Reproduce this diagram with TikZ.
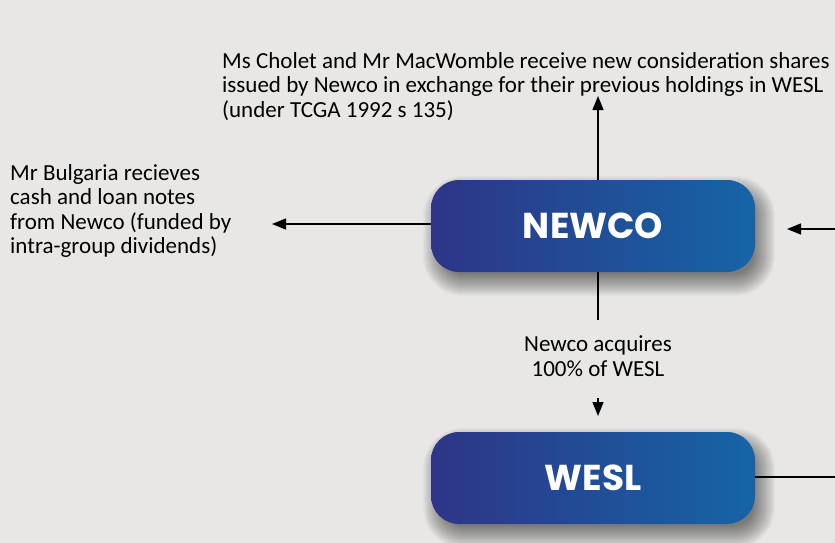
\documentclass[tikz,border=0pt]{standalone}
\usepackage{fontspec}
\setmainfont{Carlito}
\newfontfamily\boxfont{Poppins}
\usetikzlibrary{arrows.meta}

\definecolor{bgGrey}{HTML}{E8E7E5}
\definecolor{boxLeft}{HTML}{2E3587}
\definecolor{boxRight}{HTML}{1565A6}

\tikzset{
  company/.style={rounded corners=28pt,minimum width=324pt,minimum height=92pt,
    left color=boxLeft,right color=boxRight,draw=none,text=white,
    font=\boxfont\bfseries\fontsize{36}{36}\selectfont},
  softshade/.style={black,opacity=0.022},
  note/.style={font=\fontsize{23}{24.5}\selectfont,inner sep=0pt},
  flow/.style={line width=1.4pt,-{Triangle[length=14pt,width=11pt]}}
}

\begin{document}
\begin{tikzpicture}[x=1pt,y=-1pt,line join=round]

\fill[bgGrey] (0,0) rectangle (835,543);
\useasboundingbox (0,0) rectangle (835,543);

% soft shadows under the two boxes
\foreach \cy in {226,478}
  \foreach \i in {0,...,22}
    \fill[softshade,rounded corners=18pt+\i pt] (445-\i,\cy-28-\i) rectangle (753+\i,\cy+48+\i);

\node[company] (newco) at (593,226) {NEWCO};
\node[company] (wesl) at (593,478) {WESL};

\node[note,anchor=north west,align=left] (shares) at (222,52) {Ms Cholet and Mr MacWomble receive new consideration shares\\issued by Newco in exchange for their previous holdings in WESL\\(under TCGA 1992 s 135)};
\node[note,anchor=north west,align=left] (bulgaria) at (10,164) {Mr Bulgaria recieves\\cash and loan notes\\from Newco (funded by\\intra-group dividends)};
\node[note,align=center] (acquires) at (598,356) {Newco acquires\\100\% of WESL};

\coordinate (sharesTip) at (598,96);
\coordinate (bulgariaTip) at (272,224);
\coordinate (rightIn) at (835,229);
\coordinate (rightTip) at (787,229);
\coordinate (acqTop) at (598,320);
\coordinate (acqOut) at (598,398);
\coordinate (weslTip) at (598,416);
\coordinate (weslOut) at (835,477);

\draw[flow] (newco.north -| sharesTip) -- (sharesTip);
\draw[flow] (newco.west |- bulgariaTip) -- (bulgariaTip);
\draw[flow] (rightIn) -- (rightTip);
\draw[line width=1.4pt] (newco.south -| acqTop) -- (acqTop);
\draw[flow] (acqOut) -- (weslTip);
\draw[line width=1.4pt] (wesl.east |- weslOut) -- (weslOut);

\end{tikzpicture}
\end{document}
